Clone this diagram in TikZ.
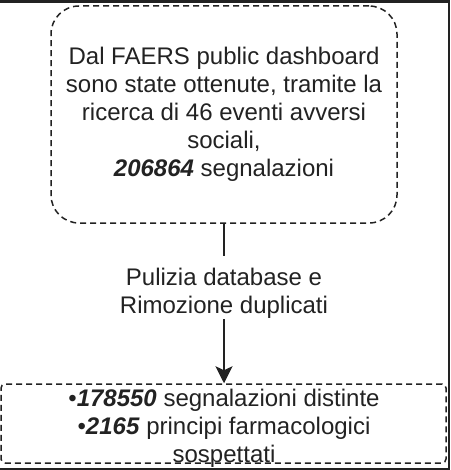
\documentclass[tikz,border=0pt]{standalone}
\usepackage{fontspec}
\setmainfont{Liberation Sans}
\usetikzlibrary{arrows.meta}
\definecolor{frame}{HTML}{222222}
\definecolor{ink}{HTML}{222222}
\tikzset{
  x=1pt, y=-1pt,
  txt/.style={font=\fontsize{24pt}{28pt}\selectfont, text=ink, align=center},
  dbox/.style={draw=ink, line width=1.5pt, dash pattern=on 6pt off 4pt, txt, inner sep=0pt},
  conn/.style={draw=ink, line width=1.6pt},
  tip/.style={-{Stealth[length=17pt,width=17pt,inset=4pt]}}
}
\begin{document}
\begin{tikzpicture}
\useasboundingbox (0,0) rectangle (450,470);
\fill[white] (0,0) rectangle (450,470);
% boxes
\node[dbox, rounded corners=28pt, minimum width=346pt, minimum height=217pt] (top) at (224,114.5)
  {Dal FAERS public dashboard\\sono state ottenute, tramite la\\ricerca di 46 eventi avversi\\sociali,\\\textbf{\textit{206864}} segnalazioni};
\node[dbox, rounded corners=4pt, minimum width=445pt, minimum height=79pt] (bot) at (223.5,423.5) {};
\node[txt, inner sep=0pt] (bottxt) at (224,428)
  {•\textbf{\textit{178550}} segnalazioni distinte\\•\textbf{\textit{2165}} principi farmacologici\\sospettati};
% label
\node[txt, inner sep=0pt] (lbl) at (224,293) {Pulizia database e\\Rimozione duplicati};
% connector
\draw[conn] (top.south) -- ([yshift=12pt]lbl.north);
\draw[conn, tip] ([yshift=-1pt]lbl.south) -- (bot.north -| lbl.south);
% dark frame of screenshot
\fill[frame] (0,0) rectangle (450,3.3);
\fill[frame] (447.5,0) rectangle (450,470);
\fill[frame] (0,467.5) rectangle (450,470);
\end{tikzpicture}
\end{document}
